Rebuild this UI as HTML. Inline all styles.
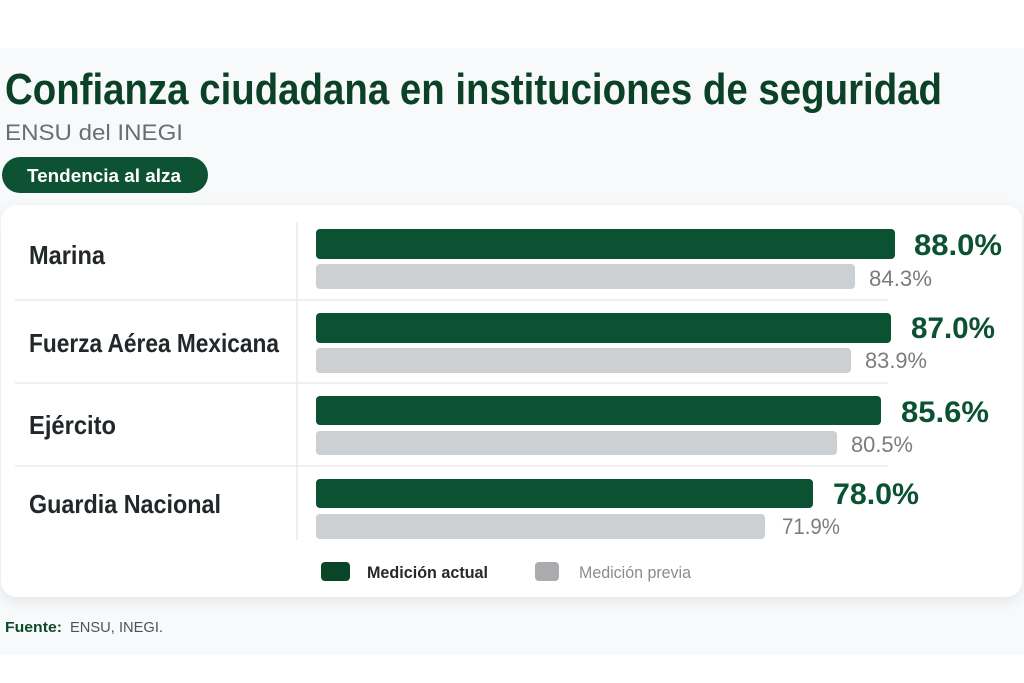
<!DOCTYPE html>
<html>
<head>
<meta charset="utf-8">
<style>
html,body{margin:0;padding:0;background:#fff;}
body{width:1024px;height:683px;overflow:hidden;}
svg{display:block;}
text{font-family:"Liberation Sans",Arial,sans-serif;}
</style>
</head>
<body>
<svg width="1024" height="683" viewBox="0 0 1024 683" xmlns="http://www.w3.org/2000/svg">
  <defs>
    <filter id="sh" x="-5%" y="-10%" width="110%" height="125%">
      <feDropShadow dx="0" dy="4" stdDeviation="6" flood-color="#000" flood-opacity="0.08"/>
    </filter>
  </defs>
  <rect x="0" y="0" width="1024" height="683" fill="#ffffff"/>
  <rect x="0" y="48" width="1024" height="607" fill="#f8f9fa"/>

  <!-- Title -->
  <text x="5" y="104" font-size="44" font-weight="bold" fill="#0b4126" textLength="937" lengthAdjust="spacingAndGlyphs">Confianza ciudadana en instituciones de seguridad</text>
  <text x="5" y="140" font-size="22" fill="#6b6e70" textLength="178" lengthAdjust="spacingAndGlyphs">ENSU del INEGI</text>

  <!-- Pill -->
  <rect x="2" y="157" width="206" height="36" rx="18" fill="#0d5233"/>
  <text x="27" y="182" font-size="18" font-weight="bold" fill="#ffffff" textLength="154" lengthAdjust="spacingAndGlyphs">Tendencia al alza</text>

  <!-- Card -->
  <rect x="1" y="205" width="1021" height="392" rx="16" fill="#ffffff" filter="url(#sh)"/>

  <!-- grid lines -->
  <line x1="297" y1="222" x2="297" y2="540" stroke="#e3e4e5" stroke-width="1.2"/>
  <line x1="15" y1="300" x2="888" y2="300" stroke="#e6e7e8" stroke-width="1.2"/>
  <line x1="15" y1="383" x2="888" y2="383" stroke="#e6e7e8" stroke-width="1.2"/>
  <line x1="15" y1="466" x2="888" y2="466" stroke="#e6e7e8" stroke-width="1.2"/>

  <!-- Labels -->
  <text x="29" y="264" font-size="26" font-weight="bold" fill="#22282a" textLength="76" lengthAdjust="spacingAndGlyphs">Marina</text>
  <text x="29" y="352" font-size="26" font-weight="bold" fill="#22282a" textLength="250" lengthAdjust="spacingAndGlyphs">Fuerza Aérea Mexicana</text>
  <text x="29" y="434" font-size="26" font-weight="bold" fill="#22282a" textLength="87" lengthAdjust="spacingAndGlyphs">Ejército</text>
  <text x="29" y="513" font-size="26" font-weight="bold" fill="#22282a" textLength="192" lengthAdjust="spacingAndGlyphs">Guardia Nacional</text>

  <!-- Bars -->
  <rect x="316" y="229" width="579" height="30" rx="4" fill="#0b5233"/>
  <rect x="316" y="264" width="539" height="25" rx="4" fill="#cdd0d3"/>
  <rect x="316" y="313" width="575" height="30" rx="4" fill="#0b5233"/>
  <rect x="316" y="348" width="535" height="25" rx="4" fill="#cdd0d3"/>
  <rect x="316" y="396" width="565" height="29" rx="4" fill="#0b5233"/>
  <rect x="316" y="431" width="521" height="24" rx="4" fill="#cdd0d3"/>
  <rect x="316" y="479" width="497" height="29" rx="4" fill="#0b5233"/>
  <rect x="316" y="514" width="449" height="25" rx="4" fill="#cdd0d3"/>

  <!-- Values -->
  <text x="914" y="255" font-size="30" font-weight="bold" fill="#0b5233" textLength="88" lengthAdjust="spacingAndGlyphs">88.0%</text>
  <text x="869" y="286" font-size="22" fill="#7a7c7e" textLength="63" lengthAdjust="spacingAndGlyphs">84.3%</text>
  <text x="911" y="338" font-size="30" font-weight="bold" fill="#0b5233" textLength="84" lengthAdjust="spacingAndGlyphs">87.0%</text>
  <text x="865" y="368" font-size="22" fill="#7a7c7e" textLength="62" lengthAdjust="spacingAndGlyphs">83.9%</text>
  <text x="901" y="422" font-size="30" font-weight="bold" fill="#0b5233" textLength="88" lengthAdjust="spacingAndGlyphs">85.6%</text>
  <text x="851" y="452" font-size="22" fill="#7a7c7e" textLength="62" lengthAdjust="spacingAndGlyphs">80.5%</text>
  <text x="833" y="504" font-size="30" font-weight="bold" fill="#0b5233" textLength="86" lengthAdjust="spacingAndGlyphs">78.0%</text>
  <text x="782" y="534" font-size="22" fill="#7a7c7e" textLength="58" lengthAdjust="spacingAndGlyphs">71.9%</text>

  <!-- Legend -->
  <rect x="321" y="562" width="29" height="19" rx="4" fill="#0a4527"/>
  <text x="367" y="578" font-size="17" font-weight="bold" fill="#26292b" textLength="121" lengthAdjust="spacingAndGlyphs">Medición actual</text>
  <rect x="535" y="562" width="24" height="19" rx="4" fill="#a9abad"/>
  <text x="579" y="578" font-size="17" fill="#8a8c8e" textLength="112" lengthAdjust="spacingAndGlyphs">Medición previa</text>

  <!-- Source -->
  <text x="5" y="632" font-size="15" font-weight="bold" fill="#0d4a2a" textLength="57" lengthAdjust="spacingAndGlyphs">Fuente:</text>
  <text x="70" y="632" font-size="15" fill="#505355" textLength="93" lengthAdjust="spacingAndGlyphs">ENSU, INEGI.</text>
</svg>
</body>
</html>
